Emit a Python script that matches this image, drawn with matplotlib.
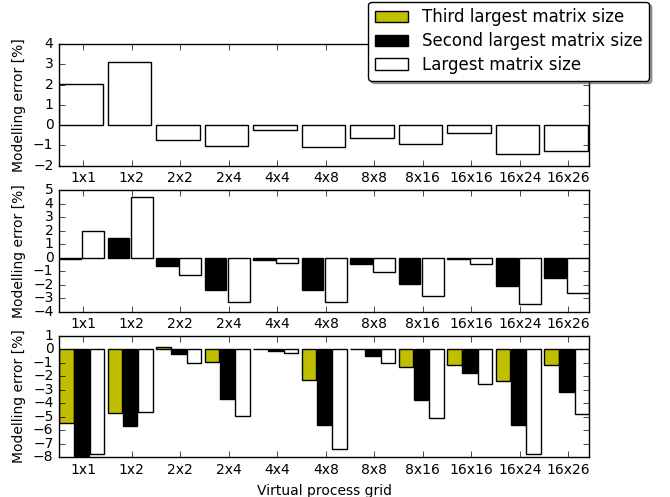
import numpy as np
import matplotlib
matplotlib.use("Agg")
import matplotlib.pyplot as plt

plt.style.use("classic")
plt.rcParams['font.family'] = ['DejaVu Sans']

# process grids
grids = ['1x1', '1x2', '2x2', '2x4', '4x4', '4x8', '8x8', '8x16', '16x16', '16x24', '16x26']

# modelling error [%]
top_largest = [2.05, 3.11, -0.74, -1.03, -0.25, -1.08, -0.61, -0.95, -0.39, -1.42, -1.26]

mid_second = [-0.07, 1.44, -0.61, -2.39, -0.2, -2.37, -0.5, -1.97, -0.1, -2.12, -1.48]
mid_largest = [2.0, 4.49, -1.29, -3.25, -0.42, -3.31, -1.08, -2.82, -0.46, -3.4, -2.64]

bot_third = [-5.45, -4.74, 0.2, -0.94, 0.05, -2.27, 0.03, -1.28, -1.15, -2.38, -1.17]
bot_second = [-7.89, -5.68, -0.37, -3.71, -0.12, -5.63, -0.52, -3.78, -1.79, -5.58, -3.15]
bot_largest = [-7.76, -4.62, -0.98, -4.95, -0.28, -7.4, -1.05, -5.08, -2.54, -7.79, -4.78]

x = np.arange(len(grids))

fig = plt.figure(figsize=(6.7, 4.97), dpi=100, facecolor='w')
left, width, h = 0.0881, 0.7915, 0.2445
ax1 = fig.add_axes([left, 0.6666, width, h])
ax2 = fig.add_axes([left, 0.3728, width, h])
ax3 = fig.add_axes([left, 0.0799, width, h])

ax1.bar(x, top_largest, 0.9, align='edge', color='w', edgecolor='k')

ax2.bar(x, mid_second, 0.45, align='edge', color='k', edgecolor='k')
ax2.bar(x + 0.48, mid_largest, 0.45, align='edge', color='w', edgecolor='k')

b3 = ax3.bar(x, bot_third, 0.3, align='edge', color='y', edgecolor='k')
b2 = ax3.bar(x + 0.315, bot_second, 0.3, align='edge', color='k', edgecolor='k')
b1 = ax3.bar(x + 0.63, bot_largest, 0.3, align='edge', color='w', edgecolor='k')

for ax, lim in [(ax1, (-2, 4)), (ax2, (-4, 5)), (ax3, (-8, 1))]:
    ax.set_facecolor('w')
    ax.set_xlim(0, 10.93)
    ax.set_ylim(*lim)
    ax.set_yticks(range(lim[0], lim[1] + 1))
    ax.set_xticks(x + 0.5)
    ax.set_xticklabels(grids)
    ax.tick_params(labelsize=10)
    ax.set_ylabel("Modelling error [%]", fontsize=10)

ax3.set_xlabel("Virtual process grid", fontsize=10)

fig.legend([b3, b2, b1],
           ["Third largest matrix size", "Second largest matrix size", "Largest matrix size"],
           loc='upper right', bbox_to_anchor=(649 / 670, 1 - 1.7 / 497),
           shadow=True, fancybox=True, fontsize=12, borderaxespad=0,
           labelspacing=0.35)

fig.savefig("out.png", dpi=100, facecolor='w')
